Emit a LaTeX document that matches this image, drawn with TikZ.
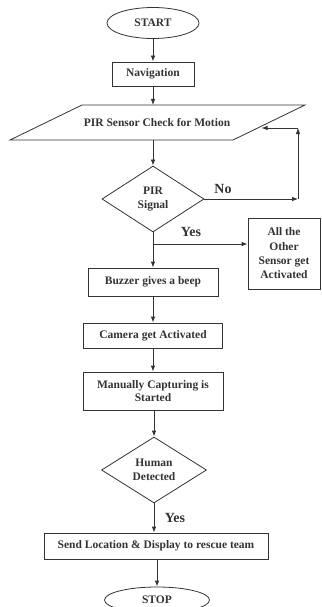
\documentclass[tikz,border=0pt]{standalone}
\usepackage{fontspec}
\setmainfont{Liberation Serif}
\usetikzlibrary{shapes}
\usetikzlibrary{arrows.meta}
\tikzset{>={Latex[length=6pt,width=4.5pt]}}

\begin{document}
\begin{tikzpicture}[x=1pt, y=-1pt, line width=0.8pt, black!80, font=\fontsize{11.5}{13.5}\selectfont\bfseries]
\tikzset{term/.style={ellipse, draw, inner sep=0pt}}
\tikzset{procbox/.style={rectangle, draw, align=center, inner sep=0pt}}
\tikzset{decision/.style={diamond, draw, align=center, inner sep=0pt}}
\tikzset{answer/.style={font=\fontsize{14}{16}\selectfont\bfseries}}
    \useasboundingbox (0,0) rectangle (321,607);
    \clip (0,0) rectangle (321,607);

    \node[term, minimum width=92pt, minimum height=31pt] (start) at (153,23) {START};
    \node[procbox, minimum width=82pt, minimum height=24pt] (nav) at (153,74) {Navigation};

    \draw (82,105) -- (305,105) -- (233,140) -- (10,140) -- cycle;
    \node (pir) at (157,123) {PIR Sensor Check for Motion};
    \coordinate (pirtop) at (153,105);
    \coordinate (pirbot) at (153,140);
    \coordinate (pirright) at (261.5,128);

    \node[decision, minimum width=102pt, minimum height=66pt] (sig) at (153,199) {PIR\\Signal};
    \coordinate (noturn) at (298,199);
    \coordinate (noup) at (298,128);
    \coordinate (yesfork) at (153,244);
    \node[procbox, minimum width=72pt, minimum height=71pt, font=\fontsize{11.5}{14.3}\selectfont\bfseries] (other) at (284,253.5) {All the\\Other\\Sensor get\\Activated};
% % % % % % % % % % % % % % % % % % %
    \node[procbox, minimum width=130pt, minimum height=28pt] (buzz) at (153,282) {Buzzer gives a beep};
    \node[procbox, minimum width=139pt, minimum height=25pt] (cam) at (153,335.5) {Camera get Activated};
    \node[procbox, minimum width=140pt, minimum height=38pt] (man) at (153,391) {Manually Capturing is\\Started};
    \node[decision, minimum width=105pt, minimum height=66pt] (hum) at (154,470) {Human\\Detected};
    \node[procbox, minimum width=224pt, minimum height=26pt] (send) at (156,546) {Send Location \& Display to rescue team};
    \node[term, minimum width=105pt, minimum height=26pt] (stop) at (157,600) {STOP};

    \node[answer] (no) at (223,189) {No};
    \node[answer] (yes) at (191,232) {Yes};
    \node[answer] (found) at (175,518) {Yes};
% % % % % % % % % % % % % % % % % % %
    \draw[->] (start) -- (nav);
    \draw[->] (nav) -- (pirtop);
    \draw[->] (pirbot) -- (sig);
    \draw[->] (sig.east) -- (noturn);
    \draw[->] (noturn) -- (noup);
    \draw[->] (noup) -- (pirright);
    \draw[->] (sig.south) -- (buzz.north);
    \draw[->] (yesfork) -- (yesfork -| other.west);
    \draw[->] (buzz) -- (cam);
    \draw[->] (cam) -- (man);
    \draw[->] (man.south) -- (man.south -| hum.north) -- (hum.north);
    \draw[->] (hum.south) -- (hum.south |- send.north);
    \draw[->] (send.south -| stop.north) -- (stop.north);
\end{tikzpicture}
\end{document}
